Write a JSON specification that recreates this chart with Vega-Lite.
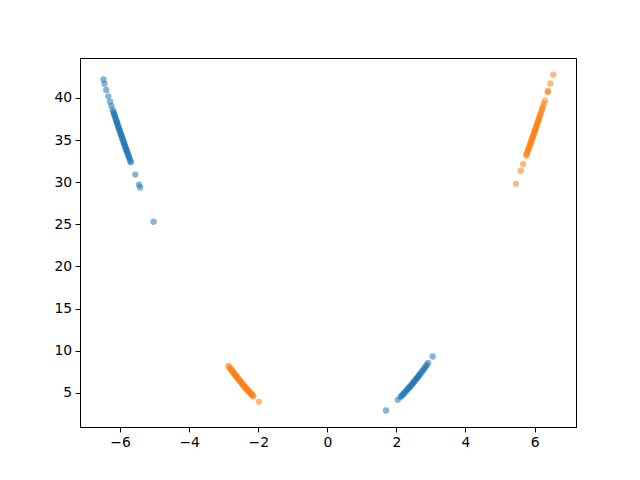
{
  "$schema": "https://vega.github.io/schema/vega-lite/v6.json",
  "width": 496,
  "height": 369,
  "autosize": {"type": "none"},
  "padding": {"left": 80, "top": 58, "right": 64, "bottom": 53},
  "background": "white",
  "config": {
    "view": {"stroke": "black", "strokeWidth": 1},
    "axis": {
      "grid": false,
      "domainColor": "black",
      "tickColor": "black",
      "tickSize": 4.9,
      "labelColor": "black",
      "labelFont": "DejaVu Sans",
      "labelFontSize": 13.9,
      "labelPadding": 3.5,
      "title": null
    }
  },
  "datasets": {
    "pts": [
      {"x": -6.48, "y": 42.2, "g": "a"}, {"x": -6.45, "y": 41.7, "g": "a"}, {"x": -6.40, "y": 40.96, "g": "a"}, {"x": -6.34, "y": 40.2, "g": "a"},
      {"x": -6.29, "y": 39.56, "g": "a"}, {"x": -6.25, "y": 39.06, "g": "a"}, {"x": -6.21, "y": 38.56, "g": "a"}, {"x": -6.19, "y": 38.32, "g": "a"},
      {"x": -6.18, "y": 38.19, "g": "a"}, {"x": -6.16, "y": 37.95, "g": "a"}, {"x": -6.15, "y": 37.82, "g": "a"}, {"x": -6.13, "y": 37.58, "g": "a"},
      {"x": -6.12, "y": 37.45, "g": "a"}, {"x": -6.10, "y": 37.21, "g": "a"}, {"x": -6.09, "y": 37.09, "g": "a"}, {"x": -6.08, "y": 36.97, "g": "a"},
      {"x": -6.06, "y": 36.72, "g": "a"}, {"x": -6.05, "y": 36.60, "g": "a"}, {"x": -6.04, "y": 36.48, "g": "a"}, {"x": -6.02, "y": 36.24, "g": "a"},
      {"x": -6.01, "y": 36.12, "g": "a"}, {"x": -6.00, "y": 36.00, "g": "a"}, {"x": -5.98, "y": 35.76, "g": "a"}, {"x": -5.97, "y": 35.64, "g": "a"},
      {"x": -5.96, "y": 35.52, "g": "a"}, {"x": -5.94, "y": 35.28, "g": "a"}, {"x": -5.93, "y": 35.16, "g": "a"}, {"x": -5.92, "y": 35.05, "g": "a"},
      {"x": -5.90, "y": 34.81, "g": "a"}, {"x": -5.89, "y": 34.69, "g": "a"}, {"x": -5.88, "y": 34.57, "g": "a"}, {"x": -5.86, "y": 34.34, "g": "a"},
      {"x": -5.85, "y": 34.22, "g": "a"}, {"x": -5.84, "y": 34.11, "g": "a"}, {"x": -5.82, "y": 33.87, "g": "a"}, {"x": -5.81, "y": 33.76, "g": "a"},
      {"x": -5.80, "y": 33.64, "g": "a"}, {"x": -5.78, "y": 33.41, "g": "a"}, {"x": -5.77, "y": 33.29, "g": "a"}, {"x": -5.75, "y": 33.06, "g": "a"},
      {"x": -5.74, "y": 32.95, "g": "a"}, {"x": -5.72, "y": 32.72, "g": "a"}, {"x": -5.70, "y": 32.49, "g": "a"}, {"x": -5.69, "y": 32.38, "g": "a"},
      {"x": -5.56, "y": 30.91, "g": "a"}, {"x": -5.45, "y": 29.70, "g": "a"}, {"x": -5.42, "y": 29.38, "g": "a"}, {"x": -5.03, "y": 25.30, "g": "a"},
      {"x": 1.70, "y": 2.89, "g": "a"}, {"x": 2.04, "y": 4.16, "g": "a"}, {"x": 2.12, "y": 4.49, "g": "a"}, {"x": 2.15, "y": 4.62, "g": "a"},
      {"x": 2.18, "y": 4.75, "g": "a"}, {"x": 2.21, "y": 4.88, "g": "a"}, {"x": 2.24, "y": 5.02, "g": "a"}, {"x": 2.27, "y": 5.15, "g": "a"},
      {"x": 2.30, "y": 5.29, "g": "a"}, {"x": 2.33, "y": 5.43, "g": "a"}, {"x": 2.36, "y": 5.57, "g": "a"}, {"x": 2.38, "y": 5.66, "g": "a"},
      {"x": 2.40, "y": 5.76, "g": "a"}, {"x": 2.43, "y": 5.90, "g": "a"}, {"x": 2.45, "y": 6.00, "g": "a"}, {"x": 2.48, "y": 6.15, "g": "a"},
      {"x": 2.50, "y": 6.25, "g": "a"}, {"x": 2.52, "y": 6.35, "g": "a"}, {"x": 2.55, "y": 6.50, "g": "a"}, {"x": 2.57, "y": 6.60, "g": "a"},
      {"x": 2.60, "y": 6.76, "g": "a"}, {"x": 2.62, "y": 6.86, "g": "a"}, {"x": 2.65, "y": 7.02, "g": "a"}, {"x": 2.67, "y": 7.13, "g": "a"},
      {"x": 2.70, "y": 7.29, "g": "a"}, {"x": 2.73, "y": 7.45, "g": "a"}, {"x": 2.76, "y": 7.62, "g": "a"}, {"x": 2.79, "y": 7.78, "g": "a"},
      {"x": 2.82, "y": 7.95, "g": "a"}, {"x": 2.85, "y": 8.12, "g": "a"}, {"x": 2.88, "y": 8.29, "g": "a"}, {"x": 2.92, "y": 8.53, "g": "a"},
      {"x": 3.05, "y": 9.30, "g": "a"},
      {"x": 6.54, "y": 42.77, "g": "b"}, {"x": 6.46, "y": 41.73, "g": "b"}, {"x": 6.39, "y": 40.83, "g": "b"}, {"x": 6.38, "y": 40.70, "g": "b"},
      {"x": 6.30, "y": 39.69, "g": "b"}, {"x": 6.27, "y": 39.31, "g": "b"}, {"x": 6.24, "y": 38.94, "g": "b"}, {"x": 6.22, "y": 38.69, "g": "b"},
      {"x": 6.20, "y": 38.44, "g": "b"}, {"x": 6.18, "y": 38.19, "g": "b"}, {"x": 6.16, "y": 37.95, "g": "b"}, {"x": 6.14, "y": 37.70, "g": "b"},
      {"x": 6.13, "y": 37.58, "g": "b"}, {"x": 6.11, "y": 37.33, "g": "b"}, {"x": 6.10, "y": 37.21, "g": "b"}, {"x": 6.08, "y": 36.97, "g": "b"},
      {"x": 6.07, "y": 36.84, "g": "b"}, {"x": 6.05, "y": 36.60, "g": "b"}, {"x": 6.04, "y": 36.48, "g": "b"}, {"x": 6.02, "y": 36.24, "g": "b"},
      {"x": 6.01, "y": 36.12, "g": "b"}, {"x": 6.00, "y": 36.00, "g": "b"}, {"x": 5.98, "y": 35.76, "g": "b"}, {"x": 5.97, "y": 35.64, "g": "b"},
      {"x": 5.95, "y": 35.40, "g": "b"}, {"x": 5.94, "y": 35.28, "g": "b"}, {"x": 5.93, "y": 35.16, "g": "b"}, {"x": 5.91, "y": 34.93, "g": "b"},
      {"x": 5.90, "y": 34.81, "g": "b"}, {"x": 5.88, "y": 34.57, "g": "b"}, {"x": 5.87, "y": 34.46, "g": "b"}, {"x": 5.85, "y": 34.22, "g": "b"},
      {"x": 5.84, "y": 34.11, "g": "b"}, {"x": 5.82, "y": 33.87, "g": "b"}, {"x": 5.81, "y": 33.76, "g": "b"}, {"x": 5.79, "y": 33.52, "g": "b"},
      {"x": 5.77, "y": 33.29, "g": "b"}, {"x": 5.76, "y": 33.18, "g": "b"}, {"x": 5.67, "y": 32.15, "g": "b"}, {"x": 5.60, "y": 31.36, "g": "b"},
      {"x": 5.46, "y": 29.81, "g": "b"},
      {"x": -2.86, "y": 8.18, "g": "b"}, {"x": -2.83, "y": 8.01, "g": "b"}, {"x": -2.80, "y": 7.84, "g": "b"}, {"x": -2.78, "y": 7.73, "g": "b"},
      {"x": -2.76, "y": 7.62, "g": "b"}, {"x": -2.74, "y": 7.51, "g": "b"}, {"x": -2.72, "y": 7.40, "g": "b"}, {"x": -2.70, "y": 7.29, "g": "b"},
      {"x": -2.68, "y": 7.18, "g": "b"}, {"x": -2.66, "y": 7.08, "g": "b"}, {"x": -2.64, "y": 6.97, "g": "b"}, {"x": -2.62, "y": 6.86, "g": "b"},
      {"x": -2.60, "y": 6.76, "g": "b"}, {"x": -2.58, "y": 6.66, "g": "b"}, {"x": -2.56, "y": 6.55, "g": "b"}, {"x": -2.54, "y": 6.45, "g": "b"},
      {"x": -2.52, "y": 6.35, "g": "b"}, {"x": -2.50, "y": 6.25, "g": "b"}, {"x": -2.48, "y": 6.15, "g": "b"}, {"x": -2.46, "y": 6.05, "g": "b"},
      {"x": -2.44, "y": 5.95, "g": "b"}, {"x": -2.42, "y": 5.86, "g": "b"}, {"x": -2.40, "y": 5.76, "g": "b"}, {"x": -2.38, "y": 5.66, "g": "b"},
      {"x": -2.36, "y": 5.57, "g": "b"}, {"x": -2.34, "y": 5.48, "g": "b"}, {"x": -2.32, "y": 5.38, "g": "b"}, {"x": -2.30, "y": 5.29, "g": "b"},
      {"x": -2.28, "y": 5.20, "g": "b"}, {"x": -2.26, "y": 5.11, "g": "b"}, {"x": -2.24, "y": 5.02, "g": "b"}, {"x": -2.22, "y": 4.93, "g": "b"},
      {"x": -2.20, "y": 4.84, "g": "b"}, {"x": -2.18, "y": 4.75, "g": "b"}, {"x": -2.16, "y": 4.67, "g": "b"}, {"x": -2.14, "y": 4.58, "g": "b"},
      {"x": -1.98, "y": 3.92, "g": "b"}
    ]
  },
  "data": {"name": "pts"},
  "mark": {"type": "point", "filled": true, "opacity": 0.55, "size": 40, "strokeWidth": 0},
  "encoding": {
    "x": {
      "field": "x", "type": "quantitative",
      "scale": {"domain": [-7.16, 7.2], "nice": false, "zero": false},
      "axis": {"values": [-6, -4, -2, 0, 2, 4, 6], "format": "d"}
    },
    "y": {
      "field": "y", "type": "quantitative",
      "scale": {"domain": [0.93, 44.75], "nice": false, "zero": false},
      "axis": {"values": [5, 10, 15, 20, 25, 30, 35, 40], "format": "d"}
    },
    "color": {
      "field": "g", "type": "nominal",
      "scale": {"domain": ["a", "b"], "range": ["#1f77b4", "#ff7f0e"]},
      "legend": null
    }
  }
}
